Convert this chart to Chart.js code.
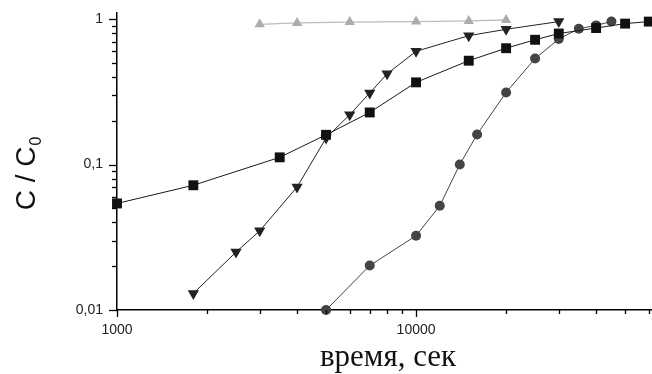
<!DOCTYPE html>
<html>
<head>
<meta charset="utf-8">
<script src="https://cdn.jsdelivr.net/npm/chart.js@4/dist/chart.umd.min.js"></script>
<style>
  html, body { margin: 0; padding: 0; background: #fff; }
  #wrap { width: 652px; height: 374px; position: relative; }
</style>
</head>
<body>
<div id="wrap"><canvas id="chart"></canvas></div>
<script>
// данные (время, сек -> C/C0)
const timeSquares = [1000, 1800, 3500, 5000, 7000, 10000, 15000, 20000, 25000, 30000, 40000, 50000, 60000];
const cSquares    = [0.054, 0.072, 0.112, 0.16, 0.228, 0.367, 0.517, 0.63, 0.72, 0.795, 0.867, 0.93, 0.96];

const timeTriDown = [1800, 2500, 3000, 4000, 5000, 6000, 7000, 8000, 10000, 15000, 20000, 30000];
const cTriDown    = [0.013, 0.025, 0.035, 0.07, 0.152, 0.22, 0.31, 0.42, 0.6, 0.768, 0.85, 0.96];

const timeCircles = [5000, 7000, 10000, 12000, 14000, 16000, 20000, 25000, 30000, 35000, 40000, 45000];
const cCircles    = [0.01, 0.0202, 0.0324, 0.052, 0.10, 0.161, 0.313, 0.535, 0.728, 0.858, 0.904, 0.962];

const timeTriUp = [3000, 4000, 6000, 10000, 15000, 20000];
const cTriUp    = [0.92, 0.94, 0.953, 0.96, 0.97, 0.985];

const xTicks = [1000, 2000, 3000, 4000, 5000, 6000, 7000, 8000, 9000, 10000, 20000, 30000, 40000, 50000, 60000];
const yTicks = [0.01, 0.02, 0.03, 0.04, 0.05, 0.06, 0.07, 0.08, 0.09, 0.1, 0.2, 0.3, 0.4, 0.5, 0.6, 0.7, 0.8, 0.9, 1];
const xLabels = { 1000: '1000', 10000: '10000' };
const yLabels = { 0.01: '0,01', 0.1: '0,1', 1: '1' };

function toPoints(xs, ys) {
    return xs.map((x, i) => ({ x: x, y: ys[i] }));
}

function isMajor(v) {
    const l = Math.log10(v);
    return Math.abs(l - Math.round(l)) < 1e-9;
}

// рисуем засечки разной длины (основные длиннее) и подписи осей
const tickMarks = {
    id: 'tickMarks',
    afterDraw(chart) {
        const ctx = chart.ctx;
        const xs = chart.scales.x, ys = chart.scales.y;
        const area = chart.chartArea;
        ctx.save();
        ctx.strokeStyle = '#000';
        ctx.lineWidth = 1.3;
        xs.ticks.forEach(t => {
            const px = Math.round(xs.getPixelForValue(t.value)) + 0.5;
            const len = isMajor(t.value) ? 7 : 4;
            ctx.beginPath();
            ctx.moveTo(px, area.bottom);
            ctx.lineTo(px, area.bottom + len);
            ctx.stroke();
        });
        ys.ticks.forEach(t => {
            const py = Math.round(ys.getPixelForValue(t.value)) + 0.5;
            const len = isMajor(t.value) ? 8 : 5;
            ctx.beginPath();
            ctx.moveTo(area.left - len, py);
            ctx.lineTo(area.left, py);
            ctx.stroke();
        });

        ctx.fillStyle = '#111';
        ctx.font = '31px "Liberation Serif", "DejaVu Serif", serif';
        ctx.textAlign = 'center';
        ctx.textBaseline = 'alphabetic';
        ctx.fillText('время, сек', 388, 366);

        ctx.translate(35, 174);
        ctx.rotate(-Math.PI / 2);
        ctx.font = '28px "Liberation Sans", Arial, sans-serif';
        const main = 'C / C';
        const w1 = ctx.measureText(main).width;
        ctx.font = '16px "Liberation Sans", Arial, sans-serif';
        const w2 = ctx.measureText('0').width;
        const start = -(w1 + w2) / 2;
        ctx.textAlign = 'left';
        ctx.font = '28px "Liberation Sans", Arial, sans-serif';
        ctx.fillText(main, start, 0);
        ctx.font = '16px "Liberation Sans", Arial, sans-serif';
        ctx.fillText('0', start + w1 + 1, 6);
        ctx.restore();
    }
};

const tickFont = { family: '"Liberation Sans", Arial, sans-serif', size: 14 };

new Chart(document.getElementById('chart'), {
    type: 'scatter',
    data: {
        datasets: [
            {
                data: toPoints(timeTriUp, cTriUp),
                showLine: true,
                borderColor: '#bdbdbd',
                backgroundColor: '#acacac',
                borderWidth: 1.3,
                pointStyle: 'triangle',
                pointRadius: 6,
                pointBorderWidth: 0
            },
            {
                data: toPoints(timeSquares, cSquares),
                showLine: true,
                borderColor: '#1a1a1a',
                backgroundColor: '#111',
                borderWidth: 1,
                pointStyle: 'rect',
                pointRadius: 7,
                pointBorderWidth: 0
            },
            {
                data: toPoints(timeTriDown, cTriDown),
                showLine: true,
                borderColor: '#222',
                backgroundColor: '#222',
                borderWidth: 1,
                pointStyle: 'triangle',
                rotation: 180,
                pointRadius: 6.5,
                pointBorderWidth: 0
            },
            {
                data: toPoints(timeCircles, cCircles),
                showLine: true,
                borderColor: '#444',
                backgroundColor: '#444',
                borderWidth: 1,
                pointStyle: 'circle',
                pointRadius: 5,
                pointBorderWidth: 0
            }
        ]
    },
    options: {
        responsive: true,
        maintainAspectRatio: false,
        animation: false,
        clip: false,
        layout: { autoPadding: false, padding: { top: 13, right: 0, left: 0, bottom: 0 } },
        plugins: {
            legend: { display: false },
            tooltip: { enabled: false }
        },
        scales: {
            x: {
                type: 'logarithmic',
                min: 1000,
                max: 61500,
                afterFit: s => { s.height = 64; s.paddingLeft = 0; s.paddingRight = 0; },
                afterBuildTicks: s => { s.ticks = xTicks.map(v => ({ value: v })); },
                grid: { display: false, drawTicks: true, tickLength: 7 },
                border: { display: true, color: '#000', width: 1.5 },
                ticks: {
                    autoSkip: false,
                    maxRotation: 0,
                    padding: 5,
                    color: '#222',
                    font: tickFont,
                    callback: v => xLabels[v] || ''
                }
            },
            y: {
                type: 'logarithmic',
                min: 0.01,
                max: 1.1,
                afterFit: s => { s.width = 117; s.paddingTop = 0; s.paddingBottom = 0; },
                afterBuildTicks: s => { s.ticks = yTicks.map(v => ({ value: v })); },
                grid: { display: false, drawTicks: true, tickLength: 8 },
                border: { display: true, color: '#000', width: 1.5 },
                ticks: {
                    autoSkip: false,
                    padding: 6,
                    color: '#222',
                    font: tickFont,
                    callback: v => yLabels[v] || ''
                }
            }
        }
    },
    plugins: [tickMarks]
});
</script>
</body>
</html>
